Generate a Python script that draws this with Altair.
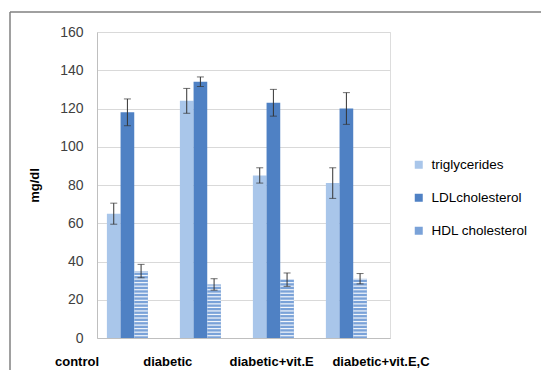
import altair as alt
import pandas as pd

groups = ["control", "diabetic", "diabetic+vit.E", "diabetic+vit.E,C"]
series = ["triglycerides", "LDLcholesterol", "HDL cholesterol"]
trig = [65, 124, 85, 81]
trig_err = [5.5, 6.5, 4, 8]
ldl = [118, 134, 123, 120]
ldl_err = [7, 2.5, 7, 8.3]
hdl = [35, 28, 30.5, 31]
hdl_err = [3.5, 3, 3.5, 2.7]
y_ticks = [0, 20, 40, 60, 80, 100, 120, 140, 160]
colors = ["#a9c6ea", "#4f81c4", "#7aa2d8"]

rows = []
for s, vals, errs in zip(series, [trig, ldl, hdl], [trig_err, ldl_err, hdl_err]):
    for g, v, e in zip(groups, vals, errs):
        rows.append({"group": g, "series": s, "value": v, "lo": v - e, "hi": v + e})
df = pd.DataFrame(rows)

FONT = "Liberation Sans"

yaxis = alt.Axis(values=y_ticks, title="mg/dl", grid=True, gridColor="#d9d9d9",
                 domainColor="#bfbfbf", ticks=False, labelPadding=14,
                 labelOverlap=False, labelFontSize=14, labelColor="#404040",
                 labelFont=FONT, titleFont=FONT, titleFontWeight="bold",
                 titleFontSize=13, titleColor="#000000", titlePadding=18)
yscale = alt.Scale(domain=[0, 160])


def Y(field):
    return alt.Y(field, type="quantitative", scale=yscale, axis=yaxis)


xaxis = alt.Axis(labels=False, ticks=False, title=None, domainColor="#bfbfbf", grid=False)
xscale = alt.Scale(paddingInner=0.438, paddingOuter=0.226, align=0.3)
xenc = alt.X("group:N", sort=groups, scale=xscale, axis=xaxis)
xoff = alt.XOffset("series:N", sort=series, scale=alt.Scale(paddingInner=0, paddingOuter=0))

base = alt.Chart(df)

bars = base.mark_bar().encode(
    x=xenc,
    xOffset=xoff,
    y=Y("value"),
    color=alt.Color("series:N", sort=series,
                    scale=alt.Scale(domain=series, range=colors),
                    legend=alt.Legend(orient="none", legendX=315, legendY=126, title=None,
                                      symbolType="square", symbolSize=64, symbolStrokeWidth=0,
                                      labelFontSize=13.5, labelFont=FONT, labelColor="#000000",
                                      rowPadding=18, padding=0, labelOffset=6)),
)

stripes = base.transform_filter(
    alt.datum.series == "HDL cholesterol"
).transform_calculate(
    s="sequence(1.2, datum.value, 1.85)"
).transform_flatten(["s"]).mark_tick(color="white", thickness=1.2, size=13.5, opacity=0.9).encode(
    x=xenc,
    xOffset=xoff,
    y=Y("s"),
)

err_rule = base.mark_rule(color="#333333", strokeWidth=1).encode(
    x=xenc, xOffset=xoff, y=Y("lo"), y2="hi:Q")
cap_lo = base.mark_tick(color="#333333", thickness=1, size=7).encode(
    x=xenc, xOffset=xoff, y=Y("lo"))
cap_hi = base.mark_tick(color="#333333", thickness=1, size=7).encode(
    x=xenc, xOffset=xoff, y=Y("hi"))

main = alt.layer(bars, stripes, err_rule, cap_lo, cap_hi)

# category labels: spread wider than the bars, as in the reference picture
labels = alt.Chart(pd.DataFrame({"group": groups, "idx": list(range(len(groups)))})).mark_text(
    font=FONT, fontSize=13, fontWeight="bold", color="#000000", dy=24, baseline="middle"
).encode(
    x=alt.X("idx:Q", scale=alt.Scale(type="pow", exponent=1.1, domain=[0, 3], range=[-20, 284]),
            axis=None),
    y=Y("z"),
    text="group:N",
).transform_calculate(z="0")

frame_top = alt.Chart(pd.DataFrame({"a": [0]})).mark_rule(color="#808080", strokeWidth=1.5).encode(
    x=alt.value(-87), x2=alt.value(452), y=alt.value(-20))
frame_left = alt.Chart(pd.DataFrame({"a": [0]})).mark_rule(color="#808080", strokeWidth=1.5).encode(
    x=alt.value(-87), y=alt.value(-20), y2=alt.value(346))

chart = alt.layer(main, labels, frame_top, frame_left).resolve_scale(x="independent").properties(
    width=293, height=306,
    autosize=alt.AutoSizeParams(type="none"),
    padding={"left": 89, "top": 24, "right": 151, "bottom": 32},
).configure_view(stroke=None).configure(font=FONT)

chart.save("out.html", embed_options={"renderer": "svg", "actions": False})
